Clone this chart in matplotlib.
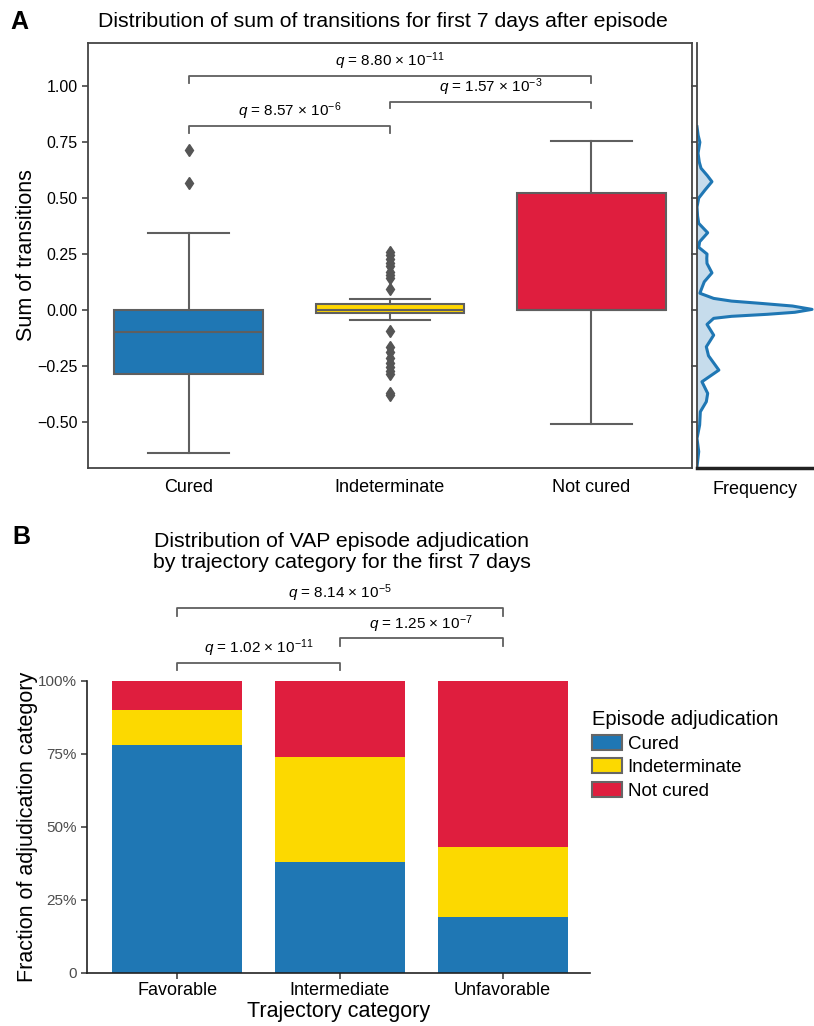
import numpy as np
import matplotlib
matplotlib.use("Agg")
import matplotlib.pyplot as plt
from matplotlib.patches import Patch

plt.rcParams['font.family'] = ['Liberation Sans', 'DejaVu Sans']
plt.rcParams['mathtext.fontset'] = 'custom'
plt.rcParams['mathtext.rm'] = 'Liberation Sans'
plt.rcParams['mathtext.it'] = 'Liberation Sans:italic'

# ---- Panel A data (box summaries) ----
outcomes = ['Cured', 'Indeterminate', 'Not cured']
box_q1 = [-0.285, -0.013, 0.0]
box_med = [-0.096, 0.0, 0.0]
box_q3 = [0.0, 0.027, 0.522]
whisk_lo = [-0.640, -0.045, -0.510]
whisk_hi = [0.344, 0.049, 0.754]
fliers_cured = [0.713, 0.566]
fliers_indet = [0.258, 0.245, 0.230, 0.212, 0.197, 0.172, 0.158, 0.143, 0.094,
                -0.094, -0.164, -0.185, -0.216, -0.235, -0.253, -0.270, -0.287,
                -0.372, -0.380]
fliers_notcured = []
box_colors = ['#1f77b4', '#FFD700', '#DF1E3E']

# density profile of all values (value, relative frequency)
kde_vals = [0.818, 0.78, 0.749, 0.70, 0.66, 0.633, 0.60, 0.573, 0.536, 0.50, 0.46,
            0.42, 0.387, 0.345, 0.305, 0.28, 0.25, 0.23, 0.208, 0.166, 0.126, 0.089,
            0.075, 0.052, 0.040, 0.030, 0.018, 0.003, -0.010, -0.019, -0.028, -0.037,
            -0.064, -0.112, -0.164, -0.204, -0.268, -0.32, -0.372, -0.409, -0.454,
            -0.513, -0.573, -0.632, -0.699]
kde_freq = [0.0, 0.01, 0.025, 0.009, 0.02, 0.035, 0.09, 0.13, 0.07, 0.015, 0.0,
            0.005, 0.015, 0.093, 0.023, 0.015, 0.087, 0.085, 0.087, 0.13, 0.063, 0.035,
            0.025, 0.145, 0.30, 0.55, 0.83, 1.0, 0.85, 0.61, 0.30, 0.145,
            0.087, 0.145, 0.081, 0.10, 0.19, 0.043, 0.093, 0.081, 0.029,
            0.023, 0.0, 0.015, 0.0]

q_a_pairs = [(0, 1), (1, 2), (0, 2)]
q_a_heights = [0.822, 0.930, 1.045]
q_a_labels = [r'$q$ = 8.57 × 10$^{-6}$', r'$q$ = 1.57 × 10$^{-3}$', r'$q$ = 8.80 × 10$^{-11}$']

# ---- Panel B data ----
trajectories = ['Favorable', 'Intermediate', 'Unfavorable']
frac_cured = [0.78, 0.38, 0.19]
frac_indet = [0.12, 0.36, 0.24]
frac_notcured = [0.10, 0.26, 0.57]
bar_colors = ['#1f77b4', '#FCD900', '#DF1E3E']

q_b_pairs = [(0, 1), (1, 2), (0, 2)]
q_b_heights = [1.062, 1.145, 1.250]
q_b_labels = [r'$q$ = 1.02 × 10$^{-11}$', r'$q$ = 1.25 × 10$^{-7}$', r'$q$ = 8.14 × 10$^{-5}$']

W, H = 814, 1026
fig = plt.figure(figsize=(W / 100, H / 100), dpi=100)

def px_axes(l, t, r, b):
    return fig.add_axes([l / W, 1 - b / H, (r - l) / W, (b - t) / H])

gray = '#5f5f5f'

# ---- Panel A box plot ----
ax = px_axes(88, 43, 692, 468)
fliers_all = [fliers_cured, fliers_indet, fliers_notcured]
stats = []
for i in range(3):
    stats.append(dict(med=box_med[i], q1=box_q1[i], q3=box_q3[i],
                      whislo=whisk_lo[i], whishi=whisk_hi[i], fliers=fliers_all[i]))
bp = ax.bxp(stats, positions=range(3), widths=0.74, patch_artist=True,
            boxprops=dict(edgecolor=gray, linewidth=1.5),
            medianprops=dict(color=gray, linewidth=1.5),
            whiskerprops=dict(color=gray, linewidth=1.5),
            capprops=dict(color=gray, linewidth=1.5),
            capwidths=0.4,
            flierprops=dict(marker='d', markerfacecolor='#555555', markeredgecolor='#555555',
                            markersize=6))
for patch, c in zip(bp['boxes'], box_colors):
    patch.set_facecolor(c)
ax.set_xlim(-0.5, 2.5)
ax.set_ylim(-0.705, 1.192)
ax.set_yticks([-0.5, -0.25, 0, 0.25, 0.5, 0.75, 1.0])
ax.set_yticklabels(['−0.50', '−0.25', '0.00', '0.25', '0.50', '0.75', '1.00'])
ax.set_xticks(range(3))
ax.set_xticklabels(outcomes, fontsize=13)
ax.tick_params(axis='y', labelsize=11.5, length=4, color='#444444', width=1.2)
ax.tick_params(axis='x', length=0, pad=8)
for s in ax.spines.values():
    s.set_color('#444444')
    s.set_linewidth(1.3)
ax.set_ylabel('Sum of transitions', fontsize=15.5, labelpad=0)

dh = 0.03
for (a, b), h, lab in zip(q_a_pairs, q_a_heights, q_a_labels):
    ax.plot([a, a, b, b], [h - dh, h, h, h - dh], color=gray, lw=1.3, clip_on=False)
    ax.text((a + b) / 2, h + 0.018, lab, ha='center', va='bottom', fontsize=11)

# ---- Panel A density ----
axk = px_axes(697, 43, 814, 468)
axk.fill_betweenx(kde_vals, 0, kde_freq, color='#1f77b4', alpha=0.25, lw=0)
axk.plot(kde_freq, kde_vals, color='#1f77b4', lw=2.2, solid_joinstyle='round')
axk.set_ylim(ax.get_ylim())
axk.set_xlim(0, 1.017)
axk.set_yticks(ax.get_yticks())
axk.set_yticklabels([])
axk.set_xticks([])
axk.tick_params(axis='y', length=4, color='#444444', width=1.2)
axk.spines['top'].set_visible(False)
axk.spines['right'].set_visible(False)
axk.spines['left'].set_color('#444444')
axk.spines['left'].set_linewidth(1.3)
axk.spines['bottom'].set_color('#222222')
axk.spines['bottom'].set_linewidth(2.5)
axk.set_xlabel('Frequency', fontsize=13, labelpad=9)

# ---- Panel B stacked bars ----
axb = px_axes(87, 680.7, 590, 972.5)
x = np.arange(len(trajectories))
axb.bar(x, frac_cured, 0.8, color=bar_colors[0], label='Cured')
axb.bar(x, frac_indet, 0.8, bottom=frac_cured, color=bar_colors[1], label='Indeterminate')
axb.bar(x, frac_notcured, 0.8, bottom=np.array(frac_cured) + np.array(frac_indet),
        color=bar_colors[2], label='Not cured')
axb.set_xlim(-0.555, 2.537)
axb.set_ylim(0, 1)
axb.set_yticks([0, 0.25, 0.5, 0.75, 1.0])
axb.set_yticklabels(['0', '25%', '50%', '75%', '100%'])
axb.set_xticks(x)
axb.set_xticklabels(trajectories, fontsize=13)
axb.tick_params(axis='y', labelsize=11, labelcolor='#4d4d4d', length=4, color='#333333', width=1.1)
axb.tick_params(axis='x', length=4, color='#333333', width=1.1, pad=3)
axb.spines['top'].set_visible(False)
axb.spines['right'].set_visible(False)
for s in ['left', 'bottom']:
    axb.spines[s].set_color('#222222')
    axb.spines[s].set_linewidth(1.2)
axb.set_ylabel('Fraction of adjudication category', fontsize=15.5, labelpad=0)
axb.set_xlabel('Trajectory category', fontsize=15.5, labelpad=1)

dhb = 0.027
for (a, b), h, lab in zip(q_b_pairs, q_b_heights, q_b_labels):
    axb.plot([a, a, b, b], [h - dhb, h, h, h - dhb], color=gray, lw=1.3, clip_on=False)
    axb.text((a + b) / 2, h + 0.012, lab, ha='center', va='bottom', fontsize=11)

handles = [Patch(facecolor=c, edgecolor='#666666', linewidth=1.5) for c in bar_colors]
fig.legend(handles, ['Cured', 'Indeterminate', 'Not cured'], title='Episode adjudication',
           loc='upper left', bbox_to_anchor=(577 / W, 1 - 695 / H), frameon=False,
           fontsize=13.5, title_fontsize=14.5, handlelength=1.6, handleheight=0.85,
           handletextpad=0.3, labelspacing=0.3, alignment='left', borderpad=0.3)

# ---- titles and panel letters ----
fig.text(382.5 / W, 1 - 22 / H, 'Distribution of sum of transitions for first 7 days after episode',
         ha='center', va='center', fontsize=15.3)
fig.text(342 / W, 1 - 552 / H,
         'Distribution of VAP episode adjudication\nby trajectory category for the first 7 days',
         ha='center', va='center', fontsize=15.3, linespacing=1.12)
fig.text(10 / W, 1 - 22 / H, 'A', fontsize=18, fontweight='bold', va='center')
fig.text(12 / W, 1 - 537 / H, 'B', fontsize=18, fontweight='bold', va='center')

fig.savefig('out.png', dpi=100)
